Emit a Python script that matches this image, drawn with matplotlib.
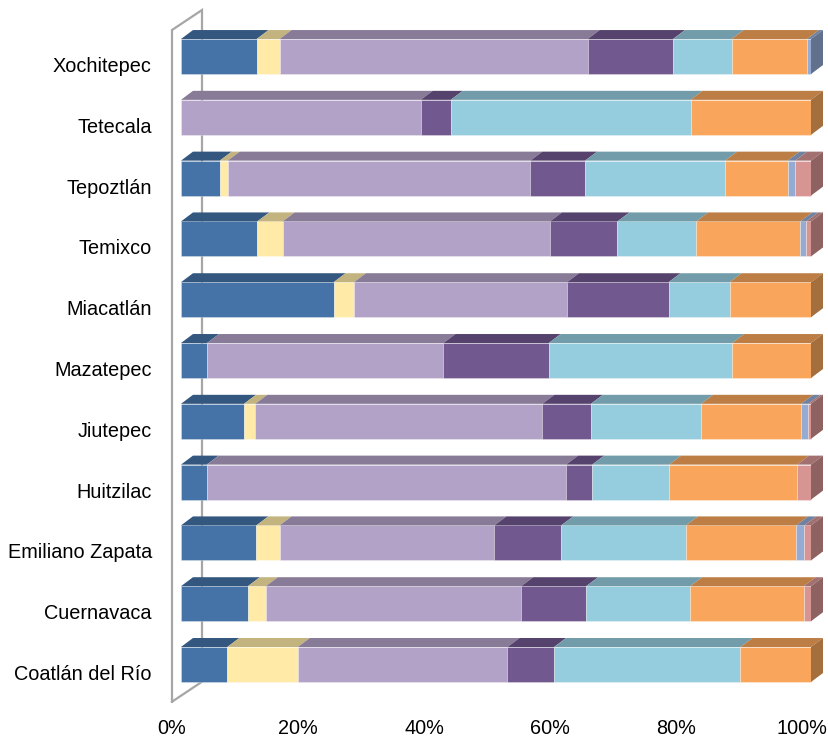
import matplotlib
matplotlib.use("Agg")
import matplotlib.pyplot as plt
from matplotlib.patches import Polygon, Rectangle
from matplotlib.transforms import ScaledTranslation
import numpy as np

# categories from bottom to top
categories = ["Coatlán del Río", "Cuernavaca", "Emiliano Zapata", "Huitzilac", "Jiutepec",
              "Mazatepec", "Miacatlán", "Temixco", "Tepoztlán", "Tetecala", "Xochitepec"]

serie_1 = [7.35, 10.6, 11.95, 4.07, 10.0, 4.13, 24.2, 12.1, 6.14, 0.0, 12.0]
serie_2 = [11.2, 2.86, 3.7, 0.0, 1.8, 0.0, 3.23, 4.03, 1.27, 0.0, 3.65]
serie_3 = [33.3, 40.5, 34.1, 57.0, 45.6, 37.5, 33.8, 42.4, 48.0, 38.0, 48.9]
serie_4 = [7.4, 10.3, 10.6, 4.13, 7.7, 16.7, 16.1, 10.7, 8.68, 4.76, 13.55]
serie_5 = [29.6, 16.5, 19.8, 12.2, 17.5, 29.1, 9.7, 12.5, 22.2, 38.0, 9.3]
serie_6 = [11.2, 18.0, 17.5, 20.3, 15.9, 12.5, 12.9, 16.5, 9.9, 19.1, 11.97]
serie_7 = [0.0, 0.0, 1.3, 0.0, 1.17, 0.0, 0.0, 0.95, 1.22, 0.0, 0.63]
serie_8 = [0.0, 1.17, 1.05, 2.2, 0.4, 0.0, 0.0, 0.75, 2.5, 0.0, 0.0]

series = [serie_1, serie_2, serie_3, serie_4, serie_5, serie_6, serie_7, serie_8]
colors = ["#4573A7", "#FFEBA7", "#B3A2C7", "#71588F", "#96CDDE", "#F9A65C", "#95ABD2", "#D69493"]

xticks = [0, 20, 40, 60, 80, 100]

plt.rcParams['font.family'] = ['Liberation Sans', 'DejaVu Sans']

W, H = 829, 741
fig = plt.figure(figsize=(W / 100, H / 100), dpi=100)
# axes: 0% at x=181px, 100% at x=811px, bottom at 705px from top
ax = fig.add_axes([181 / W, 36 / H, 630 / W, 705 / H])
ax.set_xlim(0, 100)
ax.set_ylim(-0.666, 10.93)

px_x = 100 / 630      # data units per pixel, x
px_y = 11.596 / 705   # data units per pixel, y

bar_h = 35 * px_y
dx, dy = 12 * px_x, 9 * px_y


def shade(c, f):
    r, g, b = matplotlib.colors.to_rgb(c)
    return (r * f, g * f, b * f)


data = np.array(series, dtype=float)
data = data / data.sum(axis=0) * 100  # 100% stacked

# wall / floor outline (drawn behind bars)
wdx, wdy = 30 * px_x, 20 * px_y
x0 = -9 * px_x
y_bot = -(701.7 - 664.5) * px_y
y_top = (664.5 - 30) * px_y
wall = [(x0, y_bot), (x0, y_top), (x0 + wdx, y_top + wdy), (x0 + wdx, y_bot + wdy), (x0, y_bot)]
wx, wy = zip(*wall)
ax.plot(wx, wy, color="#A6A6A6", lw=1.6, clip_on=False, zorder=1, solid_joinstyle='miter')

for i in range(len(categories)):
    left = 0.0
    last = None
    for k in range(len(series)):
        v = data[k, i]
        if v <= 0:
            continue
        c = colors[k]
        ax.add_patch(Rectangle((left, i - bar_h / 2), v, bar_h, facecolor=c,
                               edgecolor=(1, 1, 1, 0.35), lw=0.6, clip_on=False, zorder=3))
        top = [(left, i + bar_h / 2), (left + dx, i + bar_h / 2 + dy),
               (left + v + dx, i + bar_h / 2 + dy), (left + v, i + bar_h / 2)]
        ax.add_patch(Polygon(top, closed=True, facecolor=shade(c, 0.76),
                             edgecolor='none', clip_on=False, zorder=3))
        left += v
        last = c
    side = [(left, i - bar_h / 2), (left + dx, i - bar_h / 2 + dy),
            (left + dx, i + bar_h / 2 + dy), (left, i + bar_h / 2)]
    ax.add_patch(Polygon(side, closed=True, facecolor=shade(last, 0.66),
                         edgecolor='none', clip_on=False, zorder=3))

ax.set_yticks(range(len(categories)))
ax.set_yticklabels(categories, fontsize=14.3)
ax.set_xticks(xticks)
ax.set_xticklabels([f"{t}%" for t in xticks], fontsize=14.3)
ax.tick_params(axis='both', length=0)
ax.tick_params(axis='y', pad=21)
ax.tick_params(axis='x', pad=10)

# labels sit on the front of the floor, shifted from the bar faces
for lab in ax.get_xticklabels():
    lab.set_transform(lab.get_transform() + ScaledTranslation(-9 / 100, 0, fig.dpi_scale_trans))
for lab in ax.get_yticklabels():
    lab.set_transform(lab.get_transform() + ScaledTranslation(0, -8 / 100, fig.dpi_scale_trans))

for s in ax.spines.values():
    s.set_visible(False)

plt.savefig("out.png", dpi=100)
